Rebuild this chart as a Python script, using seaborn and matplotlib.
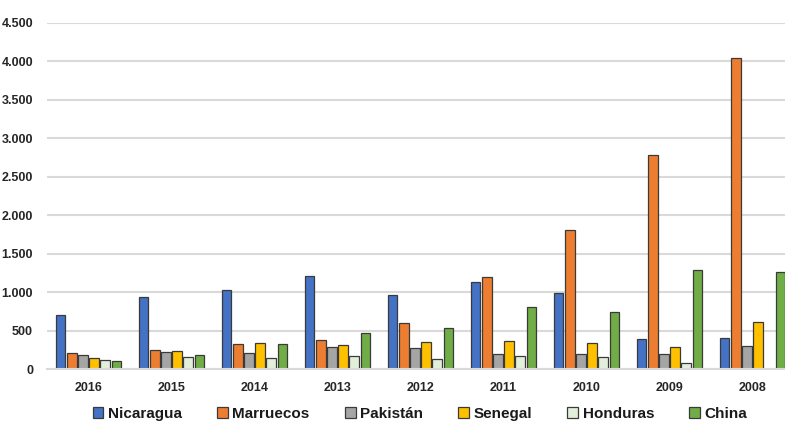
import pandas as pd
import numpy as np
from matplotlib import pyplot as plt
from matplotlib.ticker import FuncFormatter, MultipleLocator
import seaborn as sns


years = ['2016', '2015', '2014', '2013', '2012', '2011', '2010', '2009', '2008']
countries = ['Nicaragua', 'Marruecos', 'Pakistán', 'Senegal', 'Honduras', 'China']

nicaragua = [709, 943, 1026, 1212, 965, 1130, 991, 390, 407]
marruecos = [216, 251, 329, 381, 598, 1199, 1806, 2785, 4041]
pakistan = [186, 225, 216, 290, 273, 203, 203, 203, 307]
senegal = [147, 234, 338, 316, 355, 364, 338, 290, 615]
honduras = [121, 160, 143, 177, 138, 169, 156, 82, 0]
china = [112, 182, 329, 468, 533, 806, 745, 1286, 1268]

colors = ['#4472C4', '#ED7D31', '#A5A5A5', '#FFC000', '#E2EFDA', '#70AD47']

series = [nicaragua, marruecos, pakistan, senegal, honduras, china]
rows = []
for name, vals in zip(countries, series):
    for y, v in zip(years, vals):
        rows.append({'year': y, 'country': name, 'value': v})
df = pd.DataFrame(rows)

sns.set_style('white')
plt.rcParams['font.family'] = ['Liberation Sans', 'DejaVu Sans']

fig = plt.figure(figsize=(7.85, 4.23), dpi=100)
ax = fig.add_axes([47 / 785, 53.7 / 423, 747 / 785, 346.3 / 423])

sns.barplot(data=df, x='year', y='value', hue='country', order=years,
            hue_order=countries, palette=colors, saturation=1, width=0.8,
            gap=0.16, edgecolor='#3a3a3a', linewidth=0.9, ax=ax)

ax.set_ylim(0, 4500)
ax.set_xlim(-0.5, 8.5)
ax.yaxis.set_major_locator(MultipleLocator(500))
ax.yaxis.set_major_formatter(FuncFormatter(lambda v, p: f'{v:,.0f}'.replace(',', '.')))
ax.grid(axis='y', color='#d9d9d9', linewidth=1.5)
ax.set_axisbelow(True)
for s in ['top', 'right', 'left']:
    ax.spines[s].set_visible(False)
ax.spines['bottom'].set_color('#d9d9d9')
ax.spines['bottom'].set_linewidth(1.5)
ax.tick_params(length=0, labelsize=9, colors='#262626')
ax.tick_params(axis='y', pad=10)
ax.tick_params(axis='x', pad=9)
for t in ax.get_xticklabels() + ax.get_yticklabels():
    t.set_fontweight('bold')
ax.set_xlabel('')
ax.set_ylabel('')

# leyenda abajo, en una fila
handles, labels = ax.get_legend_handles_labels()
ax.get_legend().remove()
fig.legend(handles, labels, loc='center', bbox_to_anchor=(0.535, 0.022),
           ncol=6, frameon=False, prop={'weight': 'bold', 'size': 11},
           handlelength=0.7, handleheight=0.7, handletextpad=0.3,
           columnspacing=2.3, labelcolor='#1a1a1a')

fig.savefig('out.png', dpi=100)
